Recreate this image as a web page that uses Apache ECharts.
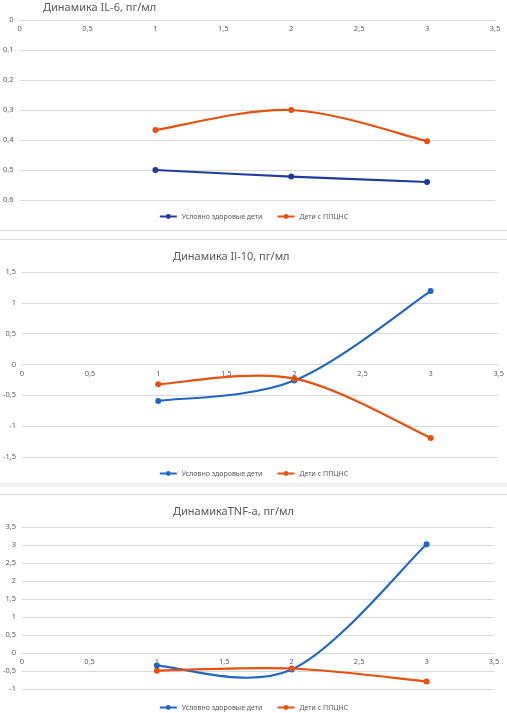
<!DOCTYPE html>
<html>
<head>
<meta charset="utf-8">
<script src="https://cdn.jsdelivr.net/npm/echarts@6/dist/echarts.min.js"></script>
<style>
  body { margin: 0; background: #fff; width: 507px; height: 713px; overflow: hidden; position: relative; }
  .c { position: absolute; left: 0; width: 507px; }
  .ln { position: absolute; left: 0; width: 507px; height: 1px; background: #d9d9d9; }
</style>
</head>
<body>
<div id="c1" class="c" style="top:0;height:230px"></div>
<div class="ln" style="top:230px"></div>
<div class="ln" style="top:239px"></div>
<div id="c2" class="c" style="top:240px;height:243px"></div>
<div style="position:absolute;left:0;top:483px;width:507px;height:4px;background:#f0f0f0"></div>
<div class="ln" style="top:494px"></div>
<div id="c3" class="c" style="top:495px;height:218px"></div>
<script>
// ---------------- data ----------------
const points = [1, 2, 3];
const seriesNames = ['Условно здоровые дети', 'Дети с ППЦНС'];

const il6Healthy = [0.50, 0.522, 0.54];
const il6Sick = [0.367, 0.30, 0.404];

const il10Healthy = [-0.59, -0.26, 1.19];
const il10Sick = [-0.32, -0.23, -1.19];

const tnfHealthy = [-0.35, -0.46, 3.02];
const tnfSick = [-0.49, -0.43, -0.79];

const titles = ['Динамика IL-6, пг/мл', 'Динамика Il-10, пг/мл', 'ДинамикаTNF-a, пг/мл'];

// ---------------- helpers ----------------
const grey = '#595959';
const gridColor = '#d9d9d9';
const orange = '#e8500f';
const font = 'Noto Sans, sans-serif';

const pairs = (ys) => points.map((x, i) => [x, ys[i]]);
const comma = (v) => String(Math.round(v * 10) / 10).replace('.', ',');

// markers only; the curve itself is drawn by curveSeries
function markerSeries(name, ys, color) {
  return {
    name: name,
    type: 'line',
    data: pairs(ys),
    symbol: 'circle',
    symbolSize: 6,
    z: 3,
    lineStyle: { width: 2, color: color, opacity: 0 },
    itemStyle: { color: color }
  };
}

// smoothed line like excel (catmull-rom in pixel space), points taken through api.coord
function curveSeries(ys, color) {
  return {
    name: 'curve',
    type: 'custom',
    data: pairs(ys),
    encode: { x: 0, y: 1 },
    silent: true,
    z: 2,
    renderItem: function (params, api) {
      if (params.dataIndex !== 0) return;
      const p = ys.map((y, i) => api.coord([points[i], y]));
      const n = p.length;
      let d = 'M' + p[0][0] + ' ' + p[0][1];
      for (let i = 0; i < n - 1; i++) {
        const a = p[Math.max(i - 1, 0)], b = p[i], c = p[i + 1], e = p[Math.min(i + 2, n - 1)];
        const c1x = b[0] + (c[0] - a[0]) / 6, c1y = b[1] + (c[1] - a[1]) / 6;
        const c2x = c[0] - (e[0] - b[0]) / 6, c2y = c[1] - (e[1] - b[1]) / 6;
        d += ' C' + c1x + ' ' + c1y + ' ' + c2x + ' ' + c2y + ' ' + c[0] + ' ' + c[1];
      }
      return {
        type: 'path',
        shape: { pathData: d },
        style: { fill: 'none', stroke: color, lineWidth: 2.2 }
      };
    }
  };
}

function makeChart(id, cfg) {
  const chart = echarts.init(document.getElementById(id));
  chart.setOption({
    animation: false,
    backgroundColor: 'transparent',
    textStyle: { fontFamily: font },
    title: {
      text: cfg.title,
      left: cfg.titleLeft,
      top: cfg.titleTop,
      padding: 0,
      textStyle: { fontSize: 11, fontWeight: 'normal', color: grey, fontFamily: font }
    },
    legend: {
      data: seriesNames,
      left: 'center',
      top: cfg.legendTop,
      padding: 0,
      itemWidth: 17,
      itemHeight: 6,
      itemGap: 14,
      lineStyle: { width: 2, opacity: 1 },
      textStyle: { fontSize: 7, color: grey, fontFamily: font }
    },
    grid: cfg.grid,
    xAxis: {
      type: 'value',
      position: 'top',
      min: 0,
      max: 3.5,
      interval: 0.5,
      axisLine: { onZero: false, lineStyle: { color: gridColor } },
      axisTick: { show: false },
      splitLine: { show: false },
      axisLabel: { inside: true, fontSize: 7.5, color: grey, margin: 5, formatter: comma, showMaxLabel: true }
    },
    yAxis: {
      type: 'value',
      min: cfg.yMin,
      max: cfg.yMax,
      interval: cfg.yStep,
      inverse: !!cfg.inverse,
      axisLine: { show: false },
      axisTick: { show: false },
      splitLine: { lineStyle: { color: gridColor, width: 1 } },
      axisLabel: { fontSize: 7.5, color: grey, margin: 6, formatter: comma }
    },
    series: cfg.series
  });
  // put the x axis (with its labels below it) on the y = 0 line
  const zeroY = chart.convertToPixel({ yAxisIndex: 0 }, 0);
  const topY = chart.convertToPixel({ yAxisIndex: 0 }, cfg.inverse ? cfg.yMin : cfg.yMax);
  chart.setOption({ xAxis: { offset: -(zeroY - topY) } });
}

// ---------------- charts ----------------
makeChart('c1', {
  title: titles[0],
  titleLeft: 43,
  titleTop: 2,
  legendTop: 213,
  grid: { left: 18, right: 12, top: 20, bottom: 30 },
  yMin: 0, yMax: 0.6, yStep: 0.1, inverse: true,
  series: [
    curveSeries(il6Healthy, '#1f3c9c'),
    curveSeries(il6Sick, orange),
    markerSeries(seriesNames[0], il6Healthy, '#1f3c9c'),
    markerSeries(seriesNames[1], il6Sick, orange)
  ]
});

makeChart('c2', {
  title: titles[1],
  titleLeft: 173,
  titleTop: 11,
  legendTop: 230,
  grid: { left: 18, right: 7, top: 32, bottom: 26 },
  yMin: -1.5, yMax: 1.5, yStep: 0.5,
  series: [
    curveSeries(il10Healthy, '#2266c4'),
    curveSeries(il10Sick, orange),
    markerSeries(seriesNames[0], il10Healthy, '#2266c4'),
    markerSeries(seriesNames[1], il10Sick, orange)
  ]
});

makeChart('c3', {
  title: titles[2],
  titleLeft: 173,
  titleTop: 11,
  legendTop: 209,
  grid: { left: 16, right: 13, top: 32, bottom: 24 },
  yMin: -1, yMax: 3.5, yStep: 0.5,
  series: [
    curveSeries(tnfHealthy, '#2266c4'),
    curveSeries(tnfSick, orange),
    markerSeries(seriesNames[0], tnfHealthy, '#2266c4'),
    markerSeries(seriesNames[1], tnfSick, orange)
  ]
});
</script>
</body>
</html>
